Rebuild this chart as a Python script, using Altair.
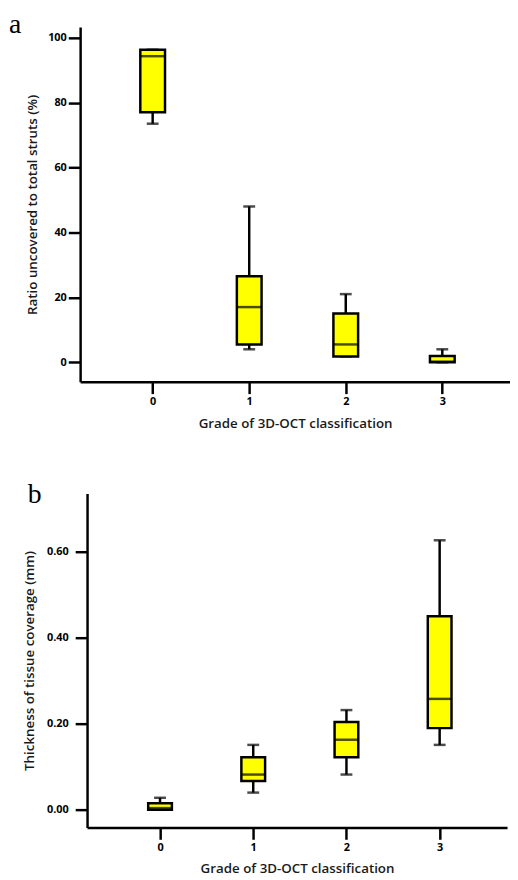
import altair as alt
import pandas as pd

grades = [0, 1, 2, 3]

# Panel a: ratio of uncovered struts (%)
a_min = [73.5, 4.0, 1.8, 0.0]
a_q1 = [77.0, 5.5, 1.8, 0.0]
a_med = [94.3, 17.0, 5.5, 0.2]
a_q3 = [96.3, 26.5, 15.0, 1.9]
a_max = [96.3, 48.0, 21.0, 4.0]

# Panel b: thickness of tissue coverage (mm)
b_min = [0.000, 0.040, 0.082, 0.151]
b_q1 = [0.000, 0.067, 0.122, 0.190]
b_med = [0.004, 0.082, 0.163, 0.258]
b_q3 = [0.015, 0.122, 0.204, 0.450]
b_max = [0.028, 0.151, 0.232, 0.627]

a_ticks = [0, 20, 40, 60, 80, 100]
b_ticks = [0.0, 0.2, 0.4, 0.6]

XTITLE = "Grade of 3D-OCT classification"
YELLOW = "#ffff00"
SW = 2.5


def make_df(lo, q1, med, q3, hi):
    return pd.DataFrame({"grade": grades, "lo": lo, "q1": q1, "med": med, "q3": q3, "hi": hi})


def panel(df, letter, letter_dx, letter_dy, ytitle, ydomain, yticks, yfmt,
          xdomain, xrange, width, height, yoffset, box_w,
          ylabelpad, ytitlepad):
    x = alt.X(
        "grade:Q",
        scale=alt.Scale(domain=xdomain, range=xrange, nice=False, zero=False),
        axis=alt.Axis(values=grades, format="d", title=XTITLE, grid=False,
                      labelPadding=2, titlePadding=10),
    )
    yscale = alt.Scale(domain=ydomain, nice=False, zero=False)
    yaxis = alt.Axis(values=yticks, format=yfmt, title=ytitle, grid=False,
                     offset=yoffset, labelPadding=ylabelpad, titlePadding=ytitlepad)
    base = alt.Chart(df)
    lower = base.mark_rule(color="black", strokeWidth=SW).encode(
        x=x, y=alt.Y("lo:Q", scale=yscale, axis=yaxis), y2="q1:Q")
    upper = base.mark_rule(color="black", strokeWidth=SW).encode(
        x=x, y=alt.Y("q3:Q"), y2="hi:Q")
    cap_lo = base.mark_tick(orient="horizontal", size=12, thickness=SW, color="black").encode(
        x=x, y=alt.Y("lo:Q"))
    cap_hi = base.mark_tick(orient="horizontal", size=12, thickness=SW, color="black").encode(
        x=x, y=alt.Y("hi:Q"))
    box = base.mark_bar(size=box_w, fill=YELLOW, stroke="black", strokeWidth=SW).encode(
        x=x, y=alt.Y("q1:Q"), y2="q3:Q")
    med = base.mark_tick(orient="horizontal", size=box_w, thickness=SW, color="black").encode(
        x=x, y=alt.Y("med:Q"))
    return alt.layer(lower, upper, cap_lo, cap_hi, box, med).properties(
        width=width, height=height,
        title=alt.TitleParams(text=letter, anchor="start", frame="group",
                              font="Liberation Serif", fontSize=28, fontWeight="normal",
                              color="black", dx=letter_dx, dy=letter_dy,
                              baseline="alphabetic", offset=0),
    )


pa = panel(make_df(a_min, a_q1, a_med, a_q3, a_max), "a", -72, 34,
           "Ratio uncovered to total struts (%)", [-6, 103.3], a_ticks, "d",
           [-0.7, 3.65], [0, 435], 435, 359, 0, 25, 2, 8)
pb = panel(make_df(b_min, b_q1, b_med, b_q3, b_max), "b", -53, 38,
           "Thickness of tissue coverage (mm)", [-0.041, 0.736], b_ticks, ".2f",
           [-0.73, 3.67], [7, 432], 432, 338, -7, 24, 7, 10)

chart = alt.vconcat(pa, pb, spacing=52).properties(
    padding={"left": 1, "top": -2, "right": 0, "bottom": 0}
).configure_view(stroke=None).configure_axis(
    domainColor="black", domainWidth=SW, tickColor="black", tickWidth=SW, tickSize=12,
    labelFont="Open Sans", labelFontSize=11, labelFontWeight="bold", labelColor="black",
    titleFont="Open Sans", titleFontSize=13.5, titleFontWeight=600, titleColor="#1a1a1a",
)

chart.save("out.html", embed_options={"renderer": "svg", "actions": False})
